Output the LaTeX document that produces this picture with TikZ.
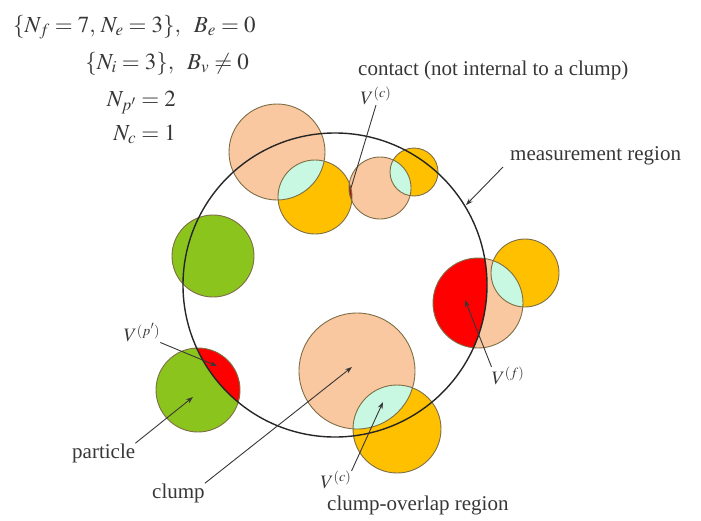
\documentclass[tikz,border=0pt]{standalone}
\usepackage{mathptmx}
\usepackage{fontspec}
\setmainfont{Liberation Serif}
\usetikzlibrary{arrows.meta}
\definecolor{peach}{RGB}{250,200,160}
\definecolor{gold}{RGB}{255,192,0}
\definecolor{leaf}{RGB}{140,196,30}
\definecolor{mint}{RGB}{200,248,226}
\definecolor{edgec}{RGB}{125,110,70}
\definecolor{ink}{RGB}{55,55,55}
\definecolor{darkred}{RGB}{170,20,10}
\begin{document}
\begin{tikzpicture}[x=1pt,y=-1pt,
  ball/.style={draw=edgec,line width=0.9pt},
  lbl/.style={text=ink,font=\fontsize{21}{25}\selectfont,inner sep=0pt},
  vlbl/.style={text=ink,font=\fontsize{19}{22}\selectfont,inner sep=0pt},
  eq/.style={text=ink,font=\fontsize{23}{27}\selectfont,inner sep=0pt},
  conn/.style={draw=ink,line width=0.9pt,-{Stealth[length=7pt,width=5pt]}},
  plainconn/.style={draw=ink,line width=0.9pt}]
\useasboundingbox (0,0) rectangle (701,520);
% centres
\coordinate (M)  at (335,285);
\coordinate (pA) at (277,152);
\coordinate (yA) at (315,197);
\coordinate (pB) at (380,188);
\coordinate (yB) at (414,172);
\coordinate (gA) at (213,256);
\coordinate (pC) at (478,303);
\coordinate (yC) at (525,273);
\coordinate (pD) at (357,371);
\coordinate (yD) at (397,429);
\coordinate (gB) at (198,390);
% fills
\fill[peach] (pA) circle[radius=48pt];
\fill[gold]  (yA) circle[radius=37pt];
\fill[peach] (pB) circle[radius=31pt];
\fill[gold]  (yB) circle[radius=24pt];
\fill[leaf]  (gA) circle[radius=41pt];
\fill[peach] (pC) circle[radius=45pt];
\fill[gold]  (yC) circle[radius=34pt];
\fill[peach] (pD) circle[radius=58pt];
\fill[gold]  (yD) circle[radius=44pt];
\fill[leaf]  (gB) circle[radius=42pt];
% clump-overlap lenses
\begin{scope}\clip (pA) circle[radius=48pt]; \fill[mint] (yA) circle[radius=37pt];\end{scope}
\begin{scope}\clip (pB) circle[radius=31pt]; \fill[mint] (yB) circle[radius=24pt];\end{scope}
\begin{scope}\clip (pC) circle[radius=45pt]; \fill[mint] (yC) circle[radius=34pt];\end{scope}
\begin{scope}\clip (pD) circle[radius=58pt]; \fill[mint] (yD) circle[radius=44pt];\end{scope}
% contact
\begin{scope}\clip (yA) circle[radius=37pt]; \fill[darkred] (pB) circle[radius=31pt];\end{scope}
% parts inside measurement region
\begin{scope}\clip (M) circle[radius=152pt];
  \fill[red] (gB) circle[radius=42pt];
  \fill[red] (pC) circle[radius=45pt];
\end{scope}
% outlines
\foreach \c/\r in {pA/48,yA/37,pB/31,yB/24,gA/41,pC/45,yC/34,pD/58,yD/44,gB/42}
  \draw[ball] (\c) circle[radius=\r pt];
% measurement region
\draw[black!85,line width=1.4pt] (M) circle[radius=152pt];
% formulas
\node[eq,anchor=base west] (f1) at (13,32) {$\{N_{f}=7,\,N_{e}=3\},\;\;B_{e}=0$};
\node[eq,anchor=base east] (f2) at (249,69) {$\{N_{i}=3\},\;\;B_{v}\neq0$};
\node[eq,anchor=base east] (f3) at (176,106) {$N_{p'}=2$};
\node[eq,anchor=base east] (f4) at (176,140) {$N_{c}=1$};
% labels
\node[lbl,anchor=base west] (contact) at (358,75) {contact (not internal to a clump)};
\node[vlbl] (Vc1) at (376,96) {$V^{(c)}$};
\node[lbl,anchor=base west] (meas) at (510,160) {measurement region};
\node[vlbl] (Vf) at (508,376) {$V^{(f)}$};
\node[vlbl] (Vp) at (142,333) {$V^{(p')}$};
\node[lbl,anchor=base west] (particle) at (72,458) {particle};
\node[lbl,anchor=base west] (clump) at (152,498) {clump};
\node[vlbl] (Vc2) at (336,480) {$V^{(c)}$};
\node[lbl,anchor=base west] (overlap) at (327,510) {clump-overlap region};
% targets
\coordinate (tContact) at (351,188);
\coordinate (tMeas) at (466,205);
\coordinate (tVf) at (465,300);
\coordinate (tVp) at (217,366);
\coordinate (tPart) at (193,397);
\coordinate (tClump) at (352,367);
\coordinate (tLens) at (383,402);
\coordinate (sMeas) at (503,167);
% connectors
\draw[plainconn] (Vc1.south) -- (tContact);
\draw[conn] (sMeas) -- (tMeas);
\draw[conn] (Vf.north west) -- (tVf);
\draw[conn] (Vp.south east) -- (tVp);
\draw[conn] (particle.north east) -- (tPart);
\draw[conn] (clump.north east) -- (tClump);
\draw[conn] (Vc2.north east) -- (tLens);
\end{tikzpicture}
\end{document}
